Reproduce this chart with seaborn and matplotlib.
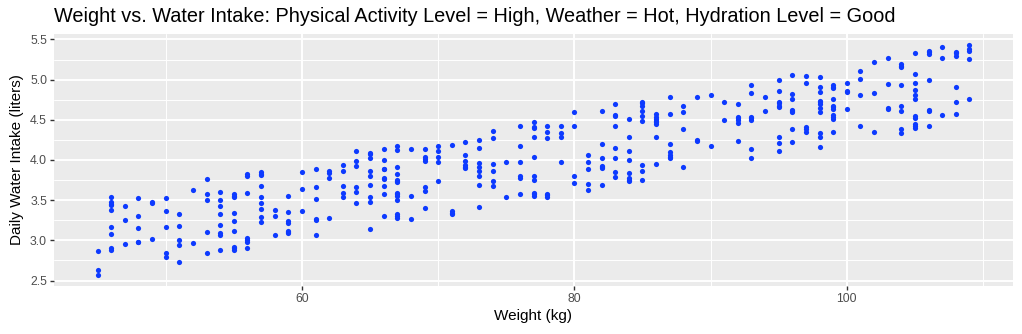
import matplotlib
matplotlib.use("Agg")
import matplotlib.pyplot as plt
from matplotlib.ticker import FixedLocator
import seaborn as sns
import pandas as pd

# ---- data (weight in kg, daily water intake in liters) ----
weight_kg = (
    [45] * 3 + [46] * 9 + [47] * 3 + [48] * 5 + [49] * 3 + [50] * 5 + [51] * 5 + [52] * 2 +
    [53] * 5 + [54] * 8 + [55] * 9 + [56] * 7 + [57] * 9 + [58] * 3 + [59] * 7 + [60] * 3 +
    [61] * 6 + [62] * 4 + [63] * 5 + [64] * 6 + [65] * 9 + [66] * 9 + [67] * 14 + [68] * 3 +
    [69] * 7 + [70] * 5 + [71] * 4 + [72] * 6 + [73] * 8 + [74] * 6 + [75] * 2 + [76] * 6 +
    [77] * 10 + [78] * 6 + [79] * 4 + [80] * 4 + [81] * 5 + [82] * 7 + [83] * 8 + [84] * 8 +
    [85] * 9 + [86] * 8 + [87] * 7 + [88] * 4 + [89] * 3 + [90] * 2 + [91] * 2 + [92] * 6 +
    [93] * 7 + [94] * 2 + [95] * 9 + [96] * 8 + [97] * 5 + [98] * 11 + [99] * 11 + [100] * 4 +
    [101] * 4 + [102] * 3 + [103] * 4 + [104] * 8 + [105] * 11 + [106] * 7 + [107] * 3 +
    [108] * 6 + [109] * 5
)

water_intake_l = [
    2.869, 2.629, 2.575,
    3.541, 3.479, 3.454, 3.434, 3.380, 3.168, 3.077, 2.907, 2.886,
    3.429, 3.259, 2.956,
    3.529, 3.309, 3.160, 2.981, 2.975,
    3.475, 3.460, 3.019,
    3.529, 3.367, 3.168, 2.840, 2.799,
    3.322, 3.180, 3.010, 2.940, 2.728,
    3.629, 2.973,
    3.761, 3.579, 3.500, 3.102, 2.840,
    3.608, 3.508, 3.425, 3.326, 3.197, 3.089, 3.068, 2.886,
    3.571, 3.554, 3.537, 3.338, 3.247, 3.118, 2.923, 2.902, 2.882,
    3.820, 3.807, 3.587, 3.031, 3.010, 2.985, 2.907,
    3.853, 3.832, 3.811, 3.678, 3.537, 3.467, 3.396, 3.297, 3.234,
    3.380, 3.309, 3.068,
    3.550, 3.359, 3.239, 3.222, 3.122, 3.106, 3.089,
    3.849, 3.637, 3.367,
    3.882, 3.658, 3.517, 3.268, 3.255, 3.068,
    3.861, 3.840, 3.778, 3.276,
    3.940, 3.869, 3.678, 3.591, 3.537,
    4.110, 3.990, 3.927, 3.670, 3.608, 3.467,
    4.089, 4.073, 4.027, 3.857, 3.799, 3.687, 3.537, 3.483, 3.147,
    4.139, 3.998, 3.894, 3.882, 3.774, 3.761, 3.678, 3.579, 3.301,
    4.180, 4.127, 3.911, 3.828, 3.757, 3.736, 3.724, 3.595, 3.571, 3.554, 3.500, 3.322, 3.301, 3.276,
    4.139, 3.550, 3.268,
    4.139, 4.035, 4.010, 3.990, 3.670, 3.616, 3.409,
    4.180, 4.110, 4.039, 3.977, 3.737,
    4.189, 3.371, 3.346, 3.326,
    4.218, 4.068, 3.990, 3.936, 3.915, 3.898,
    4.251, 4.147, 3.961, 3.911, 3.861, 3.799, 3.691, 3.421,
    4.359, 4.268, 3.948, 3.857, 3.737, 3.678,
    3.969, 3.537,
    4.417, 4.168, 3.969, 3.795, 3.782, 3.575,
    4.471, 4.413, 4.392, 4.280, 4.039, 3.803, 3.751, 3.595, 3.575, 3.554,
    4.421, 4.351, 4.272, 3.583, 3.562, 3.537,
    4.429, 4.342, 4.280, 3.981,
    4.591, 4.429, 3.799, 3.716,
    4.060, 3.977, 3.886, 3.699, 3.629,
    4.612, 4.201, 4.019, 3.923, 3.911, 3.898, 3.691,
    4.691, 4.566, 4.550, 4.429, 4.151, 4.019, 3.849, 3.786,
    4.504, 4.280, 4.118, 3.998, 3.836, 3.770, 3.753, 3.741,
    4.724, 4.703, 4.674, 4.612, 4.542, 4.479, 3.940, 3.869, 3.757,
    4.571, 4.529, 4.508, 4.488, 4.467, 4.446, 4.280, 3.948,
    4.778, 4.571, 4.201, 4.102, 4.064, 4.039, 4.019,
    4.670, 4.600, 4.380, 3.919,
    4.786, 4.251, 4.239,
    4.803, 4.180,
    4.720, 4.492,
    4.691, 4.537, 4.517, 4.492, 4.463, 4.239,
    4.932, 4.832, 4.537, 4.517, 4.492, 4.139, 4.027,
    4.778, 4.612,
    4.990, 4.861, 4.724, 4.703, 4.678, 4.654, 4.288, 4.210, 4.118,
    5.052, 4.815, 4.761, 4.620, 4.608, 4.595, 4.384, 4.230,
    5.039, 4.952, 4.413, 4.380, 4.351,
    5.031, 4.911, 4.840, 4.737, 4.716, 4.695, 4.641, 4.600, 4.342, 4.280, 4.160,
    4.932, 4.911, 4.890, 4.761, 4.674, 4.654, 4.633, 4.554, 4.533, 4.512, 4.351,
    4.961, 4.861, 4.844, 4.633,
    5.110, 5.002, 4.811, 4.429,
    5.214, 4.832, 4.351,
    5.272, 4.940, 4.641, 4.629,
    5.189, 5.172, 5.156, 4.932, 4.678, 4.612, 4.384, 4.330,
    5.334, 5.064, 4.952, 4.869, 4.811, 4.761, 4.542, 4.525, 4.446, 4.421, 4.400,
    5.359, 5.338, 5.317, 4.990, 4.620, 4.608, 4.421,
    5.405, 5.263, 4.566,
    5.346, 5.330, 5.293, 4.911, 4.720, 4.571,
    5.425, 5.376, 5.359, 5.251, 4.761,
]

title_text = "Weight vs. Water Intake: Physical Activity Level = High, Weather = Hot, Hydration Level = Good"
x_label = "Weight (kg)"
y_label = "Daily Water Intake (liters)"
x_major_ticks = [60, 80, 100]
x_minor_ticks = [50, 70, 90, 110]
y_major_ticks = [2.5, 3.0, 3.5, 4.0, 4.5, 5.0, 5.5]
y_minor_ticks = [2.75, 3.25, 3.75, 4.25, 4.75, 5.25]
y_tick_labels = ["2.5", "3.0", "3.5", "4.0", "4.5", "5.0", "5.5"]

df = pd.DataFrame({"Weight": weight_kg, "Intake": water_intake_l})

sns.set_theme(style="darkgrid")
plt.rcParams["font.family"] = ["Liberation Sans", "DejaVu Sans"]

W, H = 1022, 334
fig = plt.figure(figsize=(W / 100, H / 100), dpi=100)
fig.patch.set_facecolor("white")
ax = fig.add_axes([54 / W, (H - 286) / H, (1013 - 54) / W, (286 - 34) / H])
ax.set_facecolor("#EBEBEB")

sns.scatterplot(data=df, x="Weight", y="Intake", color="#0D3AFF", s=14,
                linewidth=0, ax=ax, zorder=3)

xr = max(weight_kg) - min(weight_kg)
yr = max(water_intake_l) - min(water_intake_l)
ax.set_xlim(min(weight_kg) - 0.05 * xr, max(weight_kg) + 0.05 * xr)
ax.set_ylim(min(water_intake_l) - 0.05 * yr, max(water_intake_l) + 0.05 * yr)

ax.set_xticks(x_major_ticks)
ax.set_xticklabels([str(v) for v in x_major_ticks])
ax.set_yticks(y_major_ticks)
ax.set_yticklabels(y_tick_labels)
ax.xaxis.set_minor_locator(FixedLocator(x_minor_ticks))
ax.yaxis.set_minor_locator(FixedLocator(y_minor_ticks))

ax.grid(False)
ax.grid(which="major", color="white", linewidth=1.4)
ax.grid(which="minor", color="white", linewidth=0.7)
ax.set_axisbelow(True)
for s in ax.spines.values():
    s.set_visible(False)

ax.tick_params(which="major", length=3, width=1.0, color="#333333",
               labelcolor="#4D4D4D", labelsize=8.8, pad=2,
               bottom=True, left=True)
ax.tick_params(which="minor", length=0)

ax.set_xlabel(x_label, fontsize=11, color="black", labelpad=3)
ax.set_ylabel(y_label, fontsize=11, color="black", labelpad=4)

fig.text(54 / W, 1 - 16 / H, title_text, ha="left", va="center",
         fontsize=14.3, color="black")

fig.savefig("out.png", dpi=100)
